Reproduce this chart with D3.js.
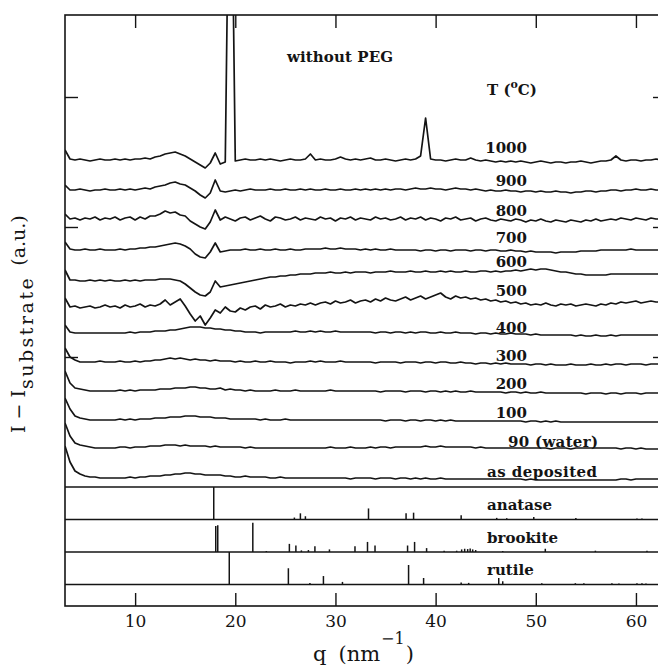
<!DOCTYPE html>
<html><head><meta charset="utf-8">
<script src="https://cdn.jsdelivr.net/npm/d3@7"></script>
<style>body{margin:0;background:#fff}svg{display:block}</style>
</head><body><svg id="c" width="658" height="665"></svg>
<script>
// ---------- DATA ----------
const qGrid = [3,3.5,4,4.5,5,5.5,6,6.5,7,7.5,
8,8.5,9,9.5,10,10.5,11,11.5,12,12.5,
13,13.5,14,14.5,15,15.5,16,16.5,17,17.5,
18,18.5,19,19.5,20,20.5,21,21.5,22,22.5,
23,23.5,24,24.5,25,25.5,26,26.5,27,27.5,
28,28.5,29,29.5,30,30.5,31,31.5,32,32.5,
33,33.5,34,34.5,35,35.5,36,36.5,37,37.5,
38,38.5,39,39.5,40,40.5,41,41.5,42,42.5,
43,43.5,44,44.5,45,45.5,46,46.5,47,47.5,
48,48.5,49,49.5,50,50.5,51,51.5,52,52.5,
53,53.5,54,54.5,55,55.5,56,56.5,57,57.5,
58,58.5,59,59.5,60,60.5,61,61.5,62,62.5,
63];

const curveLabels = ["1000","900","800","700","600","500","400","300","200","100","90 (water)","as deposited"];
// vertical stacking offset of each trace (a.u.)
const offsets = [327, 297, 268, 237, 207, 179, 154, 125, 96, 67, 39, 9];

const c1000 = [10,1,0,1,0,-1,0,1,0,0, 1,0,1,0,1,1,2,1,3,4, 6,7,8,6,4,1,-2,-5,-8,-3, 7,-4,-2,400,-1,0,1,0,0,1,
 0,1,0,-1,0,1,0,0,1,6, 0,1,0,0,1,3,1,0,1,0, 1,2,0,0,1,0,-1,0,1,0, 1,4,42,1,0,0,-1,0,1,0,
 0,2,0,-1,0,-1,-2,-1,-2,-1, -2,-1,-2,-3,-2,-1,-2,-3,-2,-2, -3,-2,-2,-1,-2,-3,-2,-1,-1,0, 4,0,-1,0,0,-1,0,0,1,0, 0];
const c900 = [5,0,0,1,0,-1,0,0,1,0, 0,1,0,1,0,1,2,1,3,4, 5,7,8,6,5,2,-1,-5,-8,-3, 10,-1,-2,-1,0,-1,0,1,0,0,
 0,1,0,0,1,0,0,1,0,1, 0,0,1,0,0,1,0,0,1,0, 1,0,1,0,1,0,1,1,0,1, 2,1,1,2,1,1,0,1,2,1,
 1,0,1,0,-1,0,-1,-1,0,-1, -1,-2,-1,-1,-2,-1,-2,-2,-1,-2, -2,-3,-2,-2,-1,-1,-2,-1,-1,0, 0,-1,0,0,1,0,0,1,0,0, 0];
const c800 = [5,0,1,-1,1,0,2,-1,1,0, 2,-1,1,2,-1,2,0,3,3,5, 8,6,7,4,3,-2,-5,-8,-10,-3, 9,-1,2,0,-2,1,2,-1,1,3,
 0,-2,2,1,-1,0,2,-1,1,0, -1,2,0,1,-2,1,0,2,-1,1, 0,-1,2,0,1,-1,0,2,-1,1, 0,2,-1,1,0,-2,1,0,2,-1,
 0,1,-2,0,1,-1,-2,0,-1,-2, 0,-1,-3,-1,-2,0,-2,-3,-1,-2, -3,-1,-2,-3,-1,-2,0,-2,-1,0, -1,1,0,-1,1,0,-1,1,0,0, 0];
const c700 = [8,1,0,0,1,0,0,1,0,0, 0,1,0,1,1,2,2,3,3,4, 5,6,7,6,4,1,-4,-7,-8,-2, 7,-2,-1,0,0,0,1,0,0,1,
 0,0,1,0,0,1,0,0,1,1, 1,1,2,1,1,2,1,1,1,0, 1,0,1,0,0,1,0,0,0,0, 0,-1,0,0,-1,0,0,-1,0,0,
 0,-1,0,0,-1,0,0,-1,-1,0, -1,-1,-2,-1,-2,-2,-2,-2,-3,-2, -2,-2,-2,-1,-1,-1,-1,0,0,0, 0,0,0,1,0,0,0,0,0,0, 0];
const c600 = [10,0,0,-1,-1,0,-1,0,-1,0, -1,-1,0,-1,0,-1,0,0,0,1, 1,1,0,-1,-4,-8,-12,-15,-16,-12, -1,-7,-6,-5,-4,-3,-2,-1,0,1,
 2,3,3,4,4,5,5,6,6,6, 7,7,7,8,7,7,8,7,8,8, 8,7,8,8,8,9,8,8,8,9, 8,8,9,8,8,9,8,9,8,8,
 9,8,8,9,9,8,9,8,9,9, 10,9,10,11,10,11,11,10,9,8, 8,7,6,6,5,5,5,5,5,6, 6,6,6,6,6,6,6,6,6,6, 6];
const c500 = [10,1,2,0,1,2,0,1,3,1, 2,0,3,1,2,4,1,3,2,4, 8,3,6,9,2,-6,-13,-8,-17,-10, -2,-5,1,-3,-4,0,-2,1,2,-1,
 3,1,2,4,1,3,2,4,3,5, 3,5,6,4,7,5,6,8,5,7, 8,6,9,7,10,8,7,9,11,8, 10,12,9,11,13,15,11,9,12,10,
 11,9,10,8,9,7,8,6,7,5, 6,4,5,3,4,3,5,3,2,4, 3,4,2,3,4,3,2,4,3,5, 4,6,5,6,7,5,6,7,6,6, 6];
const c400 = [8,1,0,0,0,0,0,0,0,0, 0,0,0,1,0,1,1,1,2,2, 2,3,3,4,5,6,6,6,5,5, 4,4,3,3,2,2,1,1,1,0,
 1,1,1,1,1,1,2,1,1,2, 1,2,1,1,2,1,1,1,1,1, 1,1,0,1,1,0,1,1,0,1, 0,1,1,0,0,1,0,0,1,0,
 0,0,-1,0,0,-1,0,-1,-1,0, -1,-1,-1,-2,-1,-2,-2,-2,-2,-2, -2,-2,-3,-2,-3,-3,-2,-3,-3,-2, -3,-2,-2,-2,-2,-2,-2,-2,-2,-2, -2];
const c300 = [14,5,2,0,0,0,0,1,0,0, 0,1,0,0,1,0,1,1,2,2, 3,4,3,4,3,2,3,2,2,1, 2,1,1,1,0,1,0,0,1,0,
 0,1,0,0,0,-1,0,0,0,1, 0,1,0,0,0,1,0,0,0,0, 0,0,-1,0,0,0,0,-1,0,0, 0,-1,0,0,-1,0,0,-1,-1,0,
 -1,-1,-2,-1,-1,-2,-1,-2,-1,-2, -2,-2,-2,-3,-2,-2,-3,-2,-3,-3, -3,-2,-3,-3,-3,-2,-3,-3,-2,-3, -2,-2,-3,-2,-2,-2,-3,-2,-2,-2, -2];
const c200 = [20,8,3,2,1,0,0,0,0,0, 0,1,0,1,0,1,1,1,1,2, 2,2,3,3,3,4,4,3,3,2, 2,3,1,2,1,1,0,1,0,0,
 0,0,1,0,0,0,1,0,0,0, 0,0,0,1,0,0,0,0,0,0, 0,0,0,-1,0,0,0,0,-1,0, 0,0,-1,0,0,-1,0,-1,0,-1,
 -1,0,-1,-1,-1,-1,-1,-1,-2,-1, -1,-2,-1,-2,-2,-1,-2,-2,-2,-2, -2,-2,-2,-2,-3,-2,-2,-2,-3,-2, -2,-3,-2,-2,-2,-3,-2,-2,-2,-2, -2];
const c100 = [22,11,4,2,1,0,0,0,0,0, 0,1,0,1,0,1,1,1,2,2, 2,3,3,3,4,4,4,3,3,3, 2,2,2,1,1,1,1,1,1,0,
 1,0,0,0,1,0,0,0,0,0, 0,0,0,0,0,0,0,0,0,0, 0,0,0,0,-1,0,0,0,-1,0, 0,-1,0,0,-1,0,-1,0,-1,-1,
 -1,-1,-1,-1,-1,-1,-1,-1,-1,-1, -1,-1,-2,-1,-1,-2,-1,-2,-1,-2, -2,-2,-2,-2,-2,-2,-2,-2,-2,-2, -2,-2,-2,-2,-2,-2,-2,-2,-2,-2, -2];
const c90 = [25,12,5,3,2,1,0,0,0,0, 0,1,1,0,1,1,1,2,2,2, 3,3,3,2,3,2,2,2,2,1, 2,1,1,1,1,1,0,1,0,0,
 0,0,0,0,0,0,0,0,0,0, 0,0,0,1,0,0,0,1,0,0, 0,1,0,1,1,0,1,1,1,1, 1,1,2,1,1,2,1,1,1,1,
 1,1,0,1,0,0,0,0,0,0, 0,0,0,0,0,0,0,-1,0,0, 0,-1,0,0,0,0,0,0,0,0, 0,-1,0,0,-1,0,-1,-1,-1,-1, -1];
const cAsDeposited = [32,16,7,4,2,1,1,0,0,0, 0,0,0,1,0,1,1,2,2,2, 3,3,4,4,5,5,4,4,3,3, 3,3,2,2,1,1,2,1,1,1,
 1,0,0,1,0,0,0,0,0,0, 0,0,0,0,0,0,0,-1,0,0, 0,0,-1,0,0,0,-1,0,0,-1, 0,-1,0,-1,-1,0,-1,-1,-1,-1,
 -1,-1,-1,-1,-1,-1,-1,-1,-1,-1, -1,-1,-2,-1,-2,-2,-2,-2,-2,-2, -2,-2,-2,-2,-2,-2,-2,-2,-2,-2, -2,-1,-1,-2,-1,-1,-1,-1,-1,-1, -1];

const anataseQ = [17.85,25.9,26.5,27.0,33.3,37.05,37.8,42.55,46.1,47.1,49.8,54.0,60.1,60.6];
const anataseI = [100,6,19,10,34,19,21,13,5,4,8,5,3,3];
const brookiteQ = [18.05,18.25,21.75,23.1,25.4,26.05,26.6,27.3,27.95,29.4,31.95,33.2,33.95,37.2,37.9,39.1,40.85,42.1,42.6,42.9,43.2,43.45,43.7,44.0,46.7,50.95,55.95,61.1];
const brookiteI = [80,82,90,3,25,20,5,6,18,8,18,31,20,20,31,12,4,4,8,10,9,11,8,6,3,10,4,4];
const rutileQ = [19.4,25.3,27.45,28.8,30.7,37.3,38.8,42.55,43.3,46.3,46.7,50.6,53.95,54.8,57.6,58.3,60.1,60.6,61.0];
const rutileI = [100,50,5,26,8,60,20,6,5,20,10,4,4,4,4,3,4,4,3];
const refNames = ["anatase","brookite","rutile"];

const xTicks = [10,20,30,40,50,60];
const yTicks = [130,260,390];

// ---------- DRAW ----------
const series = [c1000,c900,c800,c700,c600,c500,c400,c300,c200,c100,c90,cAsDeposited];
const svg = d3.select("#c");
const FONT = "'DejaVu Serif', serif";
const INK = "#141414";
const L = 65, R = 666, T = 15, B = 606;
const bands = [487, 519.5, 552, 584.5];

const x = d3.scaleLinear().domain([3, 63]).range([L, R]);
const y = d3.scaleLinear().domain([0, 472]).range([bands[0], T]);

svg.append("rect").attr("width",658).attr("height",665).attr("fill","#fff");

const defs = svg.append("defs");
defs.append("clipPath").attr("id","clipTop").append("rect")
  .attr("x",L).attr("y",T).attr("width",R-L).attr("height",bands[0]-T);
defs.append("clipPath").attr("id","clipAll").append("rect")
  .attr("x",L).attr("y",T).attr("width",R-L).attr("height",B-T);

// traces
const line = d3.line().x(d=>d[0]).y(d=>d[1]);
const gTr = svg.append("g").attr("clip-path","url(#clipTop)");
series.forEach((s,i)=>{
  const pts = qGrid.map((q,j)=>[x(q), y(offsets[i] + s[j])]);
  gTr.append("path").attr("d", line(pts)).attr("fill","none")
    .attr("stroke",INK).attr("stroke-width",1.7).attr("stroke-linejoin","round");
});

// reference stick patterns
const refs = [[anataseQ,anataseI],[brookiteQ,brookiteI],[rutileQ,rutileI]];
const gRef = svg.append("g").attr("clip-path","url(#clipAll)");
refs.forEach((r,k)=>{
  const ys = d3.scaleLinear().domain([0,100]).range([bands[k+1], bands[k]]);
  r[0].forEach((q,j)=>{
    gRef.append("line").attr("x1",x(q)).attr("x2",x(q))
      .attr("y1",ys(0)).attr("y2",ys(r[1][j]))
      .attr("stroke",INK).attr("stroke-width",1.5);
  });
});

// frame + panel dividers
svg.append("rect").attr("x",L).attr("y",T).attr("width",R-L).attr("height",B-T)
  .attr("fill","none").attr("stroke",INK).attr("stroke-width",1.6);
bands.forEach(b=>{
  svg.append("line").attr("x1",L).attr("x2",R).attr("y1",b).attr("y2",b)
    .attr("stroke",INK).attr("stroke-width",1.6);
});

// axes
function styleAxis(g){
  g.select(".domain").remove();
  g.selectAll(".tick line").attr("stroke",INK).attr("stroke-width",1.4);
}
const axB = svg.append("g").attr("transform",`translate(0,${B})`)
  .call(d3.axisBottom(x).tickValues(xTicks).tickSizeInner(-13).tickSizeOuter(0).tickPadding(9));
styleAxis(axB);
axB.selectAll(".tick text").attr("font-family",FONT).attr("font-size",17).attr("fill",INK);
const axT = svg.append("g").attr("transform",`translate(0,${T})`)
  .call(d3.axisTop(x).tickValues(xTicks).tickSizeInner(-13).tickSizeOuter(0).tickFormat(""));
styleAxis(axT);
const axL = svg.append("g").attr("transform",`translate(${L},0)`)
  .call(d3.axisLeft(y).tickValues(yTicks).tickSizeInner(-13).tickSizeOuter(0).tickFormat(""));
styleAxis(axL);
const axR = svg.append("g").attr("transform",`translate(${R},0)`)
  .call(d3.axisRight(y).tickValues(yTicks).tickSizeInner(-13).tickSizeOuter(0).tickFormat(""));
styleAxis(axR);

// curve labels (numbers right-aligned)
const labelBase = [153,186,216,243,267,296,333,361,389,418,447,477];
curveLabels.forEach((t,i)=>{
  const txt = svg.append("text").attr("font-family",FONT).attr("font-weight","bold")
    .attr("font-size",15).attr("fill",INK).attr("y",labelBase[i]);
  if (i < 10) txt.attr("x",527).attr("text-anchor","end").text(t);
  else if (i === 10) txt.attr("x",508).attr("xml:space","preserve").text("90 (water)").attr("textLength",90);
  else txt.attr("x",487).text(t).attr("textLength",110);
});
const refBase = [510,543,575];
refNames.forEach((t,k)=>{
  svg.append("text").attr("x",487).attr("y",refBase[k]).attr("font-family",FONT)
    .attr("font-weight","bold").attr("font-size",15).attr("fill",INK).text(t);
});

// header texts
svg.append("text").attr("x",287).attr("y",62).attr("font-family",FONT).attr("font-weight","bold")
  .attr("font-size",15).attr("fill",INK).attr("textLength",106).text("without PEG");
const tT = svg.append("text").attr("x",487).attr("y",95).attr("font-family",FONT)
  .attr("font-weight","bold").attr("font-size",15).attr("fill",INK);
tT.append("tspan").text("T (");
tT.append("tspan").attr("font-size",11).attr("dy",-7).text("o");
tT.append("tspan").attr("dy",7).text("C)");

// x axis title
const xt = svg.append("text").attr("x",313).attr("y",661).attr("font-family",FONT)
  .attr("font-size",21).attr("fill",INK);
xt.append("tspan").text("q");
xt.append("tspan").attr("dx",12).text("(nm");
xt.append("tspan").attr("font-size",16).attr("dy",-17).attr("dx",1).text("−1");
xt.append("tspan").attr("dy",17).attr("dx",1).text(")");

// y axis title
const yt = svg.append("text").attr("transform","translate(25,433) rotate(-90)")
  .attr("font-family",FONT).attr("font-size",19).attr("fill",INK);
yt.append("tspan").text("I");
yt.append("tspan").attr("dx",6).text("−");
yt.append("tspan").attr("dx",6).text("I");
yt.append("tspan").attr("dy",8).attr("dx",1).attr("letter-spacing",2.5).text("substrate");
yt.append("tspan").attr("dy",-8).attr("dx",10).text("(a.u.)");
</script>
</body></html>
